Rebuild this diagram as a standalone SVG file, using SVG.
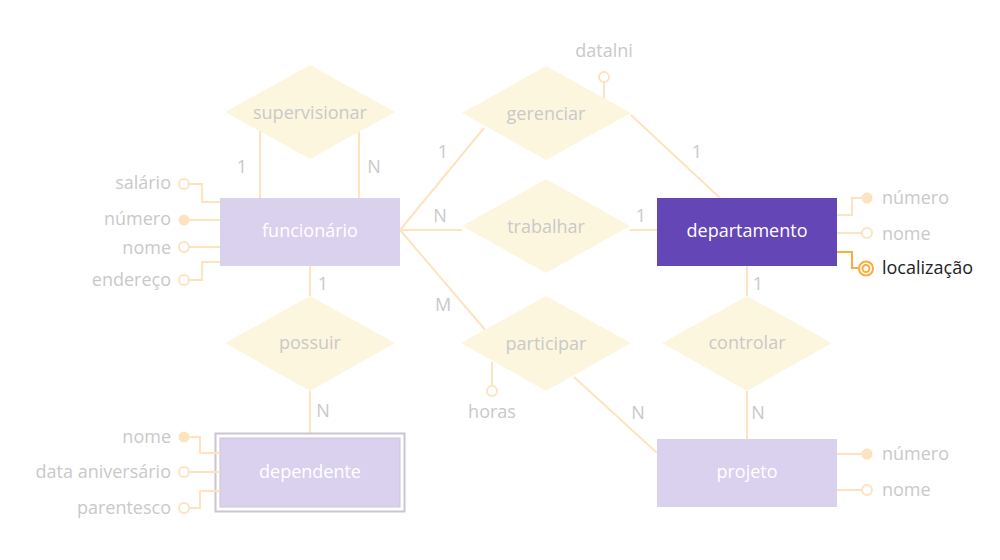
<svg xmlns="http://www.w3.org/2000/svg" width="1000" height="560" viewBox="0 0 1000 560">
<style>
.ln{fill:none;stroke:#fde3c0;stroke-width:2}
.rel{fill:#fdf6df}
.ent{fill:#dad1ef}
.t{font-family:"Open Sans","Noto Sans",sans-serif;font-size:18px;fill:#c9c9c9}
.c{text-anchor:middle;dominant-baseline:central}
.r{text-anchor:end;dominant-baseline:central}
.l{text-anchor:start;dominant-baseline:central}
.w{fill:#ffffff}
.ho{fill:#ffffff;stroke:#fde3c0;stroke-width:2}
.fi{fill:#fde3c0}
</style>
<rect width="1000" height="560" fill="#ffffff"/>
<g id="connectors">
<path class="ln" d="M260 130V198M359 130V198"/>
<path class="ln" d="M310 266V296M310 391V433"/>
<path class="ln" d="M400 230L484 128M631 115L720 198"/>
<path class="ln" d="M400 230H462M630 230H657"/>
<path class="ln" d="M400 230L487 332M574 377L657 453"/>
<path class="ln" d="M747 266V296M747 391V439"/>
<path class="ln" d="M604 82V100"/>
<path class="ln" d="M492 362V386"/>
<text class="t c" x="242" y="166">1</text>
<text class="t c" x="374" y="166">N</text>
<text class="t c" x="323" y="283">1</text>
<text class="t c" x="323" y="410">N</text>
<text class="t c" x="443" y="151">1</text>
<text class="t c" x="697" y="151">1</text>
<text class="t c" x="440" y="215">N</text>
<text class="t c" x="641" y="215">1</text>
<text class="t c" x="443" y="304">M</text>
<text class="t c" x="638" y="412">N</text>
<text class="t c" x="758" y="283">1</text>
<text class="t c" x="758" y="412">N</text>
</g>
<g id="supervisionar">
<polygon class="rel" points="225,112 310,65 395,112 310,159"/>
<text class="t c" x="310" y="112">supervisionar</text>
</g>
<g id="gerenciar">
<polygon class="rel" points="462,113 546,66 631,113 546,160"/>
<text class="t c" x="546" y="113">gerenciar</text>
</g>
<g id="datalni">
<circle class="ho" cx="604" cy="77" r="5"/>
<text class="t c" x="604" y="50">datalni</text>
</g>
<g id="trabalhar">
<polygon class="rel" points="462,226 546,179 630,226 546,273"/>
<text class="t c" x="546" y="226">trabalhar</text>
</g>
<g id="participar">
<polygon class="rel" points="461,343 546,296 631,343 546,391"/>
<text class="t c" x="546" y="343">participar</text>
</g>
<g id="horas">
<circle class="ho" cx="492" cy="391" r="5"/>
<text class="t c" x="492" y="411">horas</text>
</g>
<g id="possuir">
<polygon class="rel" points="225,343 310,296 395,343 310,391"/>
<text class="t c" x="310" y="342">possuir</text>
</g>
<g id="controlar">
<polygon class="rel" points="662,343 747,296 832,343 747,391"/>
<text class="t c" x="747" y="342">controlar</text>
</g>
<g id="funcionario">
<rect class="ent" x="220" y="198" width="180" height="68"/>
<text class="t c w" x="310" y="230">funcionário</text>
</g>
<g id="funcionario-attrs">
<path class="ln" d="M189 184H202V202H220M189 220H220M189 247H220M189 280H202V262H220"/>
<circle class="ho" cx="184" cy="184" r="5"/>
<circle class="fi" cx="184" cy="220" r="5.5"/>
<circle class="ho" cx="184" cy="247" r="5"/>
<circle class="ho" cx="184" cy="280" r="5"/>
<text class="t r" x="171" y="182">salário</text>
<text class="t r" x="171" y="218">número</text>
<text class="t r" x="171" y="247">nome</text>
<text class="t r" x="171" y="279">endereço</text>
</g>
<g id="dependente">
<rect x="215.5" y="433.5" width="189" height="78" fill="#ffffff" stroke="#c9c4d6" stroke-width="2"/>
<rect class="ent" x="220" y="438" width="180" height="69" stroke="#c9c4d6" stroke-width="1"/>
<text class="t c w" x="310" y="471">dependente</text>
</g>
<g id="dependente-attrs">
<path class="ln" d="M189 437H200V453H220M189 472H220M189 508H200V491H220"/>
<circle class="fi" cx="184" cy="437" r="5.5"/>
<circle class="ho" cx="184" cy="472" r="5"/>
<circle class="ho" cx="184" cy="508" r="5"/>
<text class="t r" x="171" y="436">nome</text>
<text class="t r" x="171" y="471">data aniversário</text>
<text class="t r" x="171" y="507">parentesco</text>
</g>
<g id="departamento">
<rect x="657" y="198" width="180" height="68" fill="#6546b7"/>
<text class="t c w" x="747" y="230">departamento</text>
</g>
<g id="departamento-attrs">
<path class="ln" d="M837 215H852V198H862M837 233H862"/>
<circle class="fi" cx="867" cy="198" r="5.5"/>
<circle class="ho" cx="867" cy="233" r="5"/>
<path d="M837 252H852V268H859" fill="none" stroke="#f8ad3d" stroke-width="2"/>
<circle cx="866" cy="268.5" r="7" fill="#ffffff" stroke="#f8ad3d" stroke-width="2"/>
<circle cx="866" cy="268.5" r="3.5" fill="#ffffff" stroke="#f8ad3d" stroke-width="2"/>
<text class="t l" x="882" y="197">número</text>
<text class="t l" x="882" y="233">nome</text>
<text class="t l" x="882" y="267" style="fill:#222222">localização</text>
</g>
<g id="projeto">
<rect class="ent" x="657" y="439" width="180" height="68"/>
<text class="t c w" x="747" y="471">projeto</text>
</g>
<g id="projeto-attrs">
<path class="ln" d="M837 454H862M837 490H862"/>
<circle class="fi" cx="867" cy="454" r="5.5"/>
<circle class="ho" cx="867" cy="490" r="5"/>
<text class="t l" x="882" y="453">número</text>
<text class="t l" x="882" y="489">nome</text>
</g>
</svg>
